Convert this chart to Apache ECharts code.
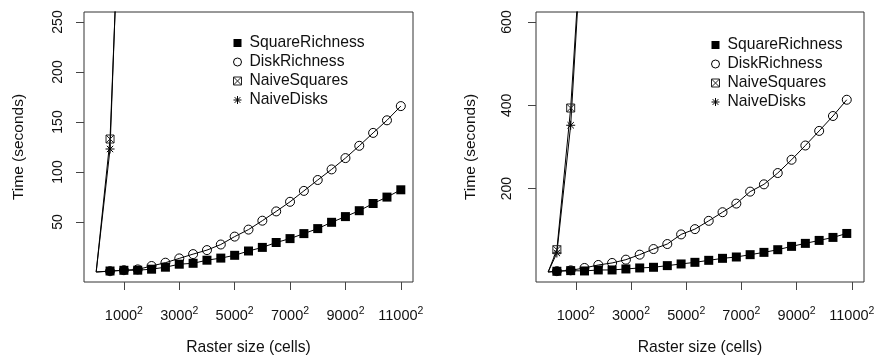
<!DOCTYPE html>
<html><head><meta charset="utf-8">
<script src="https://cdn.jsdelivr.net/npm/echarts@6/dist/echarts.min.js"></script>
<style>html,body{margin:0;padding:0;background:#fff}#c{width:876px;height:356px}</style>
</head><body><div id="c"></div>
<script>
// ---------- data ----------
const seriesNames = ['SquareRichness', 'DiskRichness', 'NaiveSquares', 'NaiveDisks'];
const xTicks = [1000, 3000, 5000, 7000, 9000, 11000];
const yTicksLeft = [50, 100, 150, 200, 250];
const yTicksRight = [200, 400, 600];

// Left panel
const leftSizes = [0, 500, 1000, 1500, 2000, 2500, 3000, 3500, 4000, 4500, 5000, 5500, 6000, 6500, 7000, 7500, 8000, 8500, 9000, 9500, 10000, 10500, 11000];
const leftSquareRichness = [0, 1, 1.7, 1.8, 2.8, 4.8, 7.8, 8.7, 11.8, 13.9, 16.7, 21, 24.6, 29.5, 33.4, 38.4, 43.4, 49.7, 55.4, 61.3, 68.5, 74.9, 82.2];
const leftDiskRichness = [0, 0.8, 1.8, 2.6, 6, 9.3, 13.6, 17.9, 21.9, 27.5, 35.4, 42.4, 51.3, 60.6, 70.2, 81.1, 92, 102.6, 113.9, 126.2, 139.1, 151.7, 165.9];
const leftNaiveSizes = [0, 500, 1000];
const leftNaiveSquares = [0, 133, 482];
const leftNaiveDisks = [0, 123, 500];

// Right panel
const rightSizes = [0, 316, 816, 1316, 1816, 2316, 2816, 3316, 3816, 4316, 4816, 5316, 5816, 6316, 6816, 7316, 7816, 8316, 8816, 9316, 9816, 10316, 10816];
const rightSquareRichness = [0, 1.7, 3.3, 2.5, 4.9, 4.9, 7.3, 9.7, 11.3, 15.3, 19.3, 23.2, 28, 32.8, 36, 41.6, 47.1, 53.5, 61.5, 68.7, 75.8, 83, 92.5];
const rightDiskRichness = [0, 2, 4, 9.7, 16.9, 21.7, 29.6, 41.6, 55.1, 67.1, 90.2, 102.9, 122.8, 143.5, 164.2, 192.9, 210.4, 237.5, 269.4, 303.6, 338.6, 374.4, 413.4];
const rightNaiveSizes = [0, 316, 816, 1316];
const rightNaiveSquares = [0, 53.5, 393.6, 920];
const rightNaiveDisks = [0, 45.6, 352.2, 910];

// ---------- styles ----------
const FONT = '"Liberation Sans", Arial, Helvetica, sans-serif';
const BOXED_X = 'path://M0,0L10,0L10,10L0,10ZM0,0L10,10M10,0L0,10';
const STAR = 'path://M5,0L5,10M0,5L10,5M1.46,1.46L8.54,8.54M8.54,1.46L1.46,8.54';
const styles = {
  SquareRichness: { symbol: 'rect', size: 9, item: { color: '#000' }, legendIcon: 'rect', legendItem: { color: '#000' } },
  DiskRichness: { symbol: 'circle', size: 9, item: { color: 'none', borderColor: '#000', borderWidth: 1 }, legendIcon: 'circle', legendItem: { color: '#fff', borderColor: '#000', borderWidth: 1 } },
  NaiveSquares: { symbol: BOXED_X, size: 8, item: { color: 'none', borderColor: '#222', borderWidth: 1 }, legendIcon: BOXED_X, legendItem: { color: 'none', borderColor: '#222', borderWidth: 1 } },
  NaiveDisks: { symbol: STAR, size: 9, item: { color: 'none', borderColor: '#000', borderWidth: 1 }, legendIcon: STAR, legendItem: { color: 'none', borderColor: '#000', borderWidth: 1 } }
};

function mk(name, xs, ys, gi) {
  const st = styles[name];
  return {
    name: name, type: 'line', xAxisIndex: gi, yAxisIndex: gi,
    data: xs.map((x, i) => i === 0 ? { value: [x, ys[i]], symbol: 'none' } : [x, ys[i]]),
    symbol: st.symbol, symbolSize: st.size, itemStyle: st.item,
    lineStyle: { color: '#000', width: 1 },
    emphasis: { disabled: true }, clip: true
  };
}

const grids = [
  { left: 84, top: 12, width: 329, height: 270 },
  { left: 536, top: 12, width: 328, height: 270 }
];

function xAxis(gi) {
  return {
    type: 'value', gridIndex: gi, min: -440, max: 11440,
    axisLine: { show: false, onZero: false }, splitLine: { show: false },
    axisTick: { show: true, inside: false, length: 8, customValues: xTicks, lineStyle: { color: '#444' } },
    axisLabel: {
      customValues: xTicks, margin: 24, color: '#111', fontFamily: FONT,
      formatter: v => '{a|' + v + '}{s|2}',
      rich: {
        a: { fontSize: 14.5, lineHeight: 20, fontFamily: FONT, color: '#111' },
        s: { fontSize: 10.5, lineHeight: 11, verticalAlign: 'top', fontFamily: FONT, color: '#111' }
      }
    },
    name: 'Raster size (cells)', nameLocation: 'middle', nameGap: 58, nameMoveOverlap: false,
    nameTextStyle: { fontSize: 15.7, color: '#111', fontFamily: FONT }
  };
}
function yAxis(gi, min, max, ticks, margin, gap) {
  return {
    type: 'value', gridIndex: gi, min: min, max: max,
    axisLine: { show: false, onZero: false }, splitLine: { show: false },
    axisTick: { show: true, inside: false, length: 8, customValues: ticks, lineStyle: { color: '#444' } },
    axisLabel: { customValues: ticks, rotate: 90, margin: margin, fontSize: 14, color: '#111', fontFamily: FONT },
    name: 'Time (seconds)', nameLocation: 'middle', nameGap: gap, nameRotate: 90, nameMoveOverlap: false,
    nameTextStyle: { fontSize: 15.5, color: '#111', fontFamily: FONT }
  };
}

function legend(left, top) {
  return {
    orient: 'vertical', left: left, top: top, itemWidth: 8, itemHeight: 8, itemGap: 3,
    selectedMode: false,
    textStyle: { fontSize: 15.7, color: '#111', fontFamily: FONT, padding: [0, 0, 0, 3] },
    data: seriesNames.map(n => ({ name: n, icon: styles[n].legendIcon, itemStyle: styles[n].legendItem }))
  };
}

const chart = echarts.init(document.getElementById('c'), null, { renderer: 'canvas' });
chart.setOption({
  animation: false,
  backgroundColor: '#fff',
  grid: grids.map(g => Object.assign({ show: true, borderColor: '#333', borderWidth: 1, backgroundColor: 'transparent', outerBoundsMode: 'none' }, g)),
  xAxis: [xAxis(0), xAxis(1)],
  yAxis: [yAxis(0, -10, 260, yTicksLeft, 19, 57.5), yAxis(1, -24, 624, yTicksRight, 21.5, 57)],
  legend: [legend(226, 30), legend(704, 32)],
  series: [
    mk('DiskRichness', leftSizes, leftDiskRichness, 0),
    mk('SquareRichness', leftSizes, leftSquareRichness, 0),
    mk('NaiveDisks', leftNaiveSizes, leftNaiveDisks, 0),
    mk('NaiveSquares', leftNaiveSizes, leftNaiveSquares, 0),
    mk('DiskRichness', rightSizes, rightDiskRichness, 1),
    mk('SquareRichness', rightSizes, rightSquareRichness, 1),
    mk('NaiveDisks', rightNaiveSizes, rightNaiveDisks, 1),
    mk('NaiveSquares', rightNaiveSizes, rightNaiveSquares, 1)
  ]
});
</script></body></html>
